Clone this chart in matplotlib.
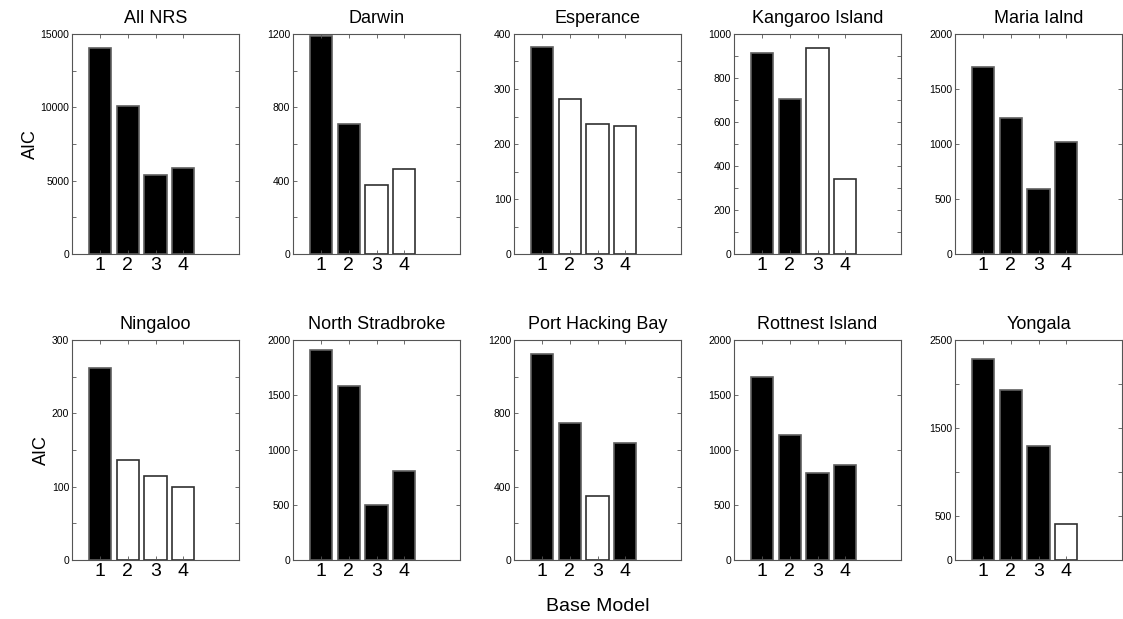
import matplotlib.pyplot as plt
import numpy as np

plt.rcParams['font.family'] = ['Liberation Sans', 'DejaVu Sans']

models = [1, 2, 3, 4]

sites = ["All NRS", "Darwin", "Esperance", "Kangaroo Island", "Maria Ialnd",
         "Ningaloo", "North Stradbroke", "Port Hacking Bay", "Rottnest Island", "Yongala"]

aic_all_nrs = [14030, 10090, 5410, 5840]
aic_darwin = [1191, 708, 376, 461]
aic_esperance = [377, 282, 237, 232]
aic_kangaroo = [914, 706, 935, 339]
aic_maria = [1698, 1237, 588, 1020]
aic_ningaloo = [262, 136, 115, 100]
aic_stradbroke = [1909, 1582, 500, 812]
aic_port_hacking = [1124, 749, 351, 640]
aic_rottnest = [1661, 1139, 794, 861]
aic_yongala = [2288, 1932, 1295, 405]

# True = filled (black) bar, False = open bar
filled_all_nrs = [True, True, True, True]
filled_darwin = [True, True, False, False]
filled_esperance = [True, False, False, False]
filled_kangaroo = [True, True, False, False]
filled_maria = [True, True, True, True]
filled_ningaloo = [True, False, False, False]
filled_stradbroke = [True, True, True, True]
filled_port_hacking = [True, True, False, True]
filled_rottnest = [True, True, True, True]
filled_yongala = [True, True, True, False]

# y limit, tick step, labelled ticks
ymax = [15000, 1200, 400, 1000, 2000, 300, 2000, 1200, 2000, 2500]
ystep = [2500, 200, 50, 100, 500, 50, 500, 200, 500, 500]
ylabels = [[0, 5000, 10000, 15000], [0, 400, 800, 1200], [0, 100, 200, 300, 400],
           [0, 200, 400, 600, 800, 1000], [0, 500, 1000, 1500, 2000],
           [0, 100, 200, 300], [0, 500, 1000, 1500, 2000], [0, 400, 800, 1200],
           [0, 500, 1000, 1500, 2000], [0, 500, 1500, 2500]]

values = [aic_all_nrs, aic_darwin, aic_esperance, aic_kangaroo, aic_maria,
          aic_ningaloo, aic_stradbroke, aic_port_hacking, aic_rottnest, aic_yongala]
filled = [filled_all_nrs, filled_darwin, filled_esperance, filled_kangaroo, filled_maria,
          filled_ningaloo, filled_stradbroke, filled_port_hacking, filled_rottnest, filled_yongala]

W, H = 1123, 619
fig = plt.figure(figsize=(W / 100, H / 100), dpi=100)

lefts = [72, 293, 514, 734, 955]
tops = [34, 340]
aw, ah = 167, 220

for i in range(10):
    row, col = divmod(i, 5)
    ax = fig.add_axes([lefts[col] / W, 1 - (tops[row] + ah) / H, aw / W, ah / H])
    face = ['black' if f else 'white' for f in filled[i]]
    edge = ['#606060' if f else '#303030' for f in filled[i]]
    ax.bar(models, values[i], width=0.8, color=face, edgecolor=edge, linewidth=1.2)
    ax.set_xlim(0, 6)
    ax.set_ylim(0, ymax[i])
    ticks = np.arange(0, ymax[i] + 1, ystep[i])
    ax.set_yticks(ticks)
    ax.set_yticklabels([str(int(t)) if t in ylabels[i] else "" for t in ticks])
    ax.set_xticks(models)
    ax.tick_params(axis='both', direction='in', top=True, right=True, length=3,
                   width=0.6, color='#555555')
    ax.tick_params(axis='y', labelsize=7.5, pad=2)
    ax.tick_params(axis='x', labelsize=14, pad=2)
    for s in ax.spines.values():
        s.set_linewidth(0.8)
        s.set_color('#555555')
    ax.set_title(sites[i], fontsize=13, pad=8)
    if col == 0:
        ax.set_ylabel("AIC", fontsize=13, labelpad=1)
    if row == 1 and col == 2:
        ax.set_xlabel("Base Model", fontsize=14, labelpad=13)

fig.savefig("out.png", dpi=100)
